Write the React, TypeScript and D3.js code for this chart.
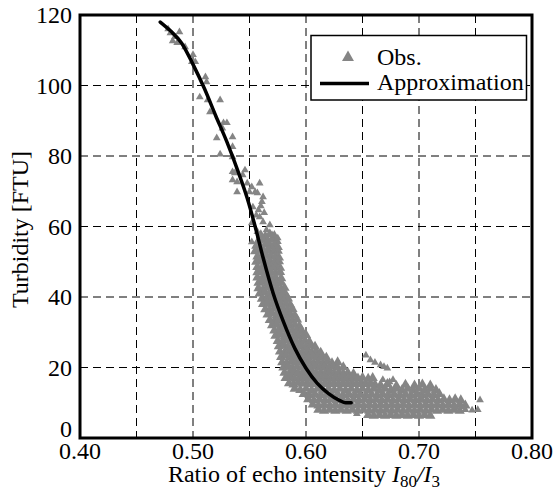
import React from 'react';
import * as d3 from 'd3';

// axis ticks / grid
const X_TICKS = [0.4, 0.5, 0.6, 0.7, 0.8];
const X_GRID = [0.45, 0.5, 0.55, 0.6, 0.65, 0.7, 0.75];
const Y_TICKS = [0, 20, 40, 60, 80, 100, 120];
const Y_GRID = [20, 40, 60, 80, 100];

// fitted curve
const approximation: [number, number][] = [
  [0.471, 118], [0.480, 115.5], [0.490, 112], [0.500, 106], [0.510, 99.2],
  [0.520, 91.5], [0.530, 84], [0.540, 75.5], [0.548, 68], [0.555, 60],
  [0.562, 51.2], [0.571, 41], [0.580, 33], [0.590, 25.5], [0.600, 19.8],
  [0.610, 15.5], [0.620, 12.6], [0.630, 10.6], [0.635, 10], [0.640, 10],
];

// observations: sparse upper part
const obsUpper: [number, number][] = [
  [0.478, 116.0], [0.480, 114.9], [0.488, 115.2], [0.484, 113.8], [0.482, 112.6], [0.486, 112.1],
  [0.493, 110.9], [0.500, 108.7], [0.502, 106.7], [0.499, 106.7], [0.511, 102.4], [0.512, 101.0],
  [0.506, 96.7], [0.513, 95.9], [0.515, 92.5], [0.524, 95.9], [0.527, 89.4], [0.526, 87.9],
  [0.530, 89.4], [0.521, 85.1], [0.535, 85.4], [0.524, 80.5], [0.535, 82.6], [0.535, 79.7],
  [0.535, 75.5], [0.537, 75.2], [0.546, 76.0], [0.539, 72.6], [0.548, 72.3], [0.550, 69.8],
  [0.552, 71.2], [0.559, 72.3], [0.557, 69.5], [0.562, 68.4], [0.535, 73.2], [0.544, 74.6],
  [0.539, 69.8], [0.555, 69.8], [0.561, 67.0], [0.558, 64.7], [0.559, 62.7], [0.562, 61.3],
  [0.568, 60.4], [0.565, 59.0], [0.570, 57.6], [0.575, 56.7], [0.552, 55.6], [0.565, 55.3],
  [0.553, 65.5], [0.556, 63.2], [0.552, 61.0], [0.557, 58.5], [0.560, 65.8], [0.563, 63.9],
];

// observations: dense descending band
const obsBand: [number, number][] = [
  [0.560, 57.5], [0.564, 57.2], [0.568, 57.8], [0.572, 57.3],
  [0.558, 56.0], [0.562, 56.3], [0.566, 55.8], [0.570, 56.2], [0.574, 55.9],
  [0.556, 54.5], [0.560, 54.2], [0.564, 54.8], [0.568, 54.4], [0.572, 54.6], [0.575, 54.2],
  [0.555, 53.0], [0.559, 53.3], [0.563, 52.8], [0.567, 53.2], [0.571, 52.9], [0.575, 53.1],
  [0.557, 51.5], [0.561, 51.2], [0.565, 51.7], [0.569, 51.4], [0.573, 51.6], [0.576, 51.2],
  [0.556, 50.0], [0.560, 50.3], [0.564, 49.8], [0.568, 50.2], [0.572, 49.9], [0.576, 50.1],
  [0.557, 48.5], [0.561, 48.2], [0.565, 48.7], [0.569, 48.4], [0.573, 48.6], [0.577, 48.3],
  [0.557, 47.0], [0.561, 47.3], [0.565, 46.8], [0.569, 47.2], [0.573, 46.9], [0.577, 47.1],
  [0.557, 45.5], [0.561, 45.2], [0.565, 45.7], [0.569, 45.4], [0.573, 45.6], [0.578, 45.3],
  [0.558, 44.0], [0.562, 44.3], [0.566, 43.8], [0.570, 44.2], [0.574, 43.9], [0.578, 44.1],
  [0.558, 42.5], [0.562, 42.2], [0.566, 42.7], [0.570, 42.4], [0.574, 42.6], [0.578, 42.3], [0.581, 42.6],
  [0.559, 41.0], [0.563, 41.3], [0.567, 40.8], [0.571, 41.2], [0.575, 40.9], [0.579, 41.1], [0.582, 40.8],
  [0.561, 39.5], [0.565, 39.2], [0.569, 39.7], [0.573, 39.4], [0.577, 39.6], [0.581, 39.3], [0.584, 39.6],
  [0.562, 38.0], [0.566, 38.3], [0.570, 37.8], [0.574, 38.2], [0.578, 37.9], [0.582, 38.1], [0.586, 37.8],
  [0.564, 36.5], [0.568, 36.2], [0.572, 36.7], [0.576, 36.4], [0.580, 36.6], [0.584, 36.3], [0.588, 36.6],
  [0.566, 35.0], [0.570, 35.3], [0.574, 34.8], [0.578, 35.2], [0.582, 34.9], [0.586, 35.1], [0.590, 34.8],
  [0.568, 33.5], [0.572, 33.2], [0.576, 33.7], [0.580, 33.4], [0.584, 33.6], [0.588, 33.3], [0.592, 33.6],
  [0.570, 32.0], [0.574, 32.3], [0.578, 31.8], [0.582, 32.2], [0.586, 31.9], [0.590, 32.1], [0.594, 31.8],
  [0.572, 30.5], [0.576, 30.2], [0.580, 30.7], [0.584, 30.4], [0.588, 30.6], [0.592, 30.3], [0.596, 30.6],
  [0.573, 29.0], [0.577, 29.3], [0.581, 28.8], [0.585, 29.2], [0.589, 28.9], [0.593, 29.1], [0.597, 28.8], [0.600, 29.2],
  [0.575, 27.5], [0.579, 27.2], [0.583, 27.7], [0.587, 27.4], [0.591, 27.6], [0.595, 27.3], [0.599, 27.6], [0.603, 27.3],
  [0.576, 26.0], [0.580, 26.3], [0.584, 25.8], [0.588, 26.2], [0.592, 25.9], [0.596, 26.1], [0.600, 25.8], [0.604, 26.2], [0.608, 25.9],
  [0.577, 24.5], [0.581, 24.2], [0.585, 24.7], [0.589, 24.4], [0.593, 24.6], [0.597, 24.3], [0.601, 24.6], [0.605, 24.3], [0.609, 24.6], [0.613, 24.2],
  [0.578, 23.0], [0.582, 23.3], [0.586, 22.8], [0.590, 23.2], [0.594, 22.9], [0.598, 23.1], [0.602, 22.8], [0.606, 23.2], [0.610, 22.9], [0.614, 23.1], [0.618, 22.8],
  [0.579, 21.5], [0.583, 21.2], [0.587, 21.7], [0.591, 21.4], [0.595, 21.6], [0.599, 21.3], [0.603, 21.6], [0.607, 21.3], [0.611, 21.6], [0.615, 21.3], [0.619, 21.6], [0.623, 21.2], [0.628, 21.5],
  [0.580, 20.0], [0.584, 20.3], [0.588, 19.8], [0.592, 20.2], [0.596, 19.9], [0.600, 20.1], [0.604, 19.8], [0.608, 20.2], [0.612, 19.9], [0.616, 20.1], [0.620, 19.8], [0.624, 20.2], [0.628, 19.9], [0.633, 20.1],
  [0.581, 18.5], [0.585, 18.2], [0.589, 18.7], [0.593, 18.4], [0.597, 18.6], [0.601, 18.3], [0.605, 18.6], [0.609, 18.3], [0.613, 18.6], [0.617, 18.3], [0.621, 18.6], [0.625, 18.3], [0.629, 18.6], [0.633, 18.3], [0.637, 18.5], [0.642, 18.2],
  [0.582, 17.0], [0.586, 17.3], [0.590, 16.8], [0.594, 17.2], [0.598, 16.9], [0.602, 17.1], [0.606, 16.8], [0.610, 17.2], [0.614, 16.9], [0.618, 17.1], [0.622, 16.8], [0.626, 17.2], [0.630, 16.9], [0.634, 17.1], [0.638, 16.8], [0.642, 17.2], [0.646, 16.9], [0.650, 17.1], [0.655, 16.8], [0.659, 17.0],
  [0.585, 15.5], [0.589, 15.2], [0.593, 15.7], [0.597, 15.4], [0.601, 15.6], [0.605, 15.3], [0.609, 15.6], [0.613, 15.3], [0.617, 15.6], [0.621, 15.3], [0.625, 15.6], [0.629, 15.3], [0.633, 15.6], [0.637, 15.3], [0.641, 15.6], [0.645, 15.3], [0.649, 15.6], [0.653, 15.3], [0.657, 15.5], [0.661, 15.2],
  [0.666, 15.0], [0.672, 15.3], [0.680, 14.8], [0.688, 15.1], [0.696, 14.9], [0.703, 15.2], [0.710, 14.9],
];

// observations: low-turbidity tail
const obsTail: [number, number][] = [
  [0.590, 14.0], [0.595, 13.6], [0.600, 14.0], [0.605, 13.6], [0.610, 14.0], [0.615, 13.6], [0.620, 14.0], [0.625, 13.6], [0.630, 14.0],
  [0.635, 13.6], [0.640, 14.0], [0.645, 13.6], [0.650, 14.0], [0.655, 13.6], [0.660, 14.0], [0.665, 13.6], [0.670, 14.0], [0.675, 13.6],
  [0.680, 14.0], [0.685, 13.6], [0.690, 14.0], [0.695, 13.6], [0.700, 14.0], [0.705, 13.6], [0.710, 14.0], [0.715, 13.6],
  [0.598, 12.5], [0.603, 12.2], [0.608, 12.5], [0.613, 12.2], [0.618, 12.5], [0.623, 12.2], [0.628, 12.5], [0.633, 12.2], [0.638, 12.5],
  [0.643, 12.2], [0.648, 12.5], [0.653, 12.2], [0.658, 12.5], [0.663, 12.2], [0.668, 12.5], [0.673, 12.2], [0.678, 12.5], [0.683, 12.2],
  [0.688, 12.5], [0.693, 12.2], [0.698, 12.5], [0.703, 12.2], [0.708, 12.5], [0.713, 12.2], [0.718, 12.5],
  [0.602, 11.0], [0.607, 10.7], [0.612, 11.0], [0.617, 10.7], [0.622, 11.0], [0.627, 10.7], [0.632, 11.0], [0.637, 10.7], [0.642, 11.0],
  [0.647, 10.7], [0.652, 11.0], [0.657, 10.7], [0.662, 11.0], [0.667, 10.7], [0.672, 11.0], [0.677, 10.7], [0.682, 11.0], [0.687, 10.7],
  [0.692, 11.0], [0.697, 10.7], [0.702, 11.0], [0.707, 10.7], [0.712, 11.0], [0.717, 10.7], [0.722, 11.0], [0.727, 10.7], [0.732, 11.0], [0.737, 10.7],
  [0.606, 9.5], [0.611, 9.2], [0.616, 9.5], [0.621, 9.2], [0.626, 9.5], [0.631, 9.2], [0.636, 9.5], [0.641, 9.2], [0.646, 9.5],
  [0.651, 9.2], [0.656, 9.5], [0.661, 9.2], [0.666, 9.5], [0.671, 9.2], [0.676, 9.5], [0.681, 9.2], [0.686, 9.5], [0.691, 9.2],
  [0.696, 9.5], [0.701, 9.2], [0.706, 9.5], [0.711, 9.2], [0.716, 9.5], [0.721, 9.2], [0.726, 9.5], [0.731, 9.2], [0.736, 9.5], [0.741, 9.2],
  [0.611, 8.0], [0.616, 7.7], [0.621, 8.0], [0.626, 7.7], [0.631, 8.0], [0.636, 7.7], [0.641, 8.0], [0.646, 7.7], [0.651, 8.0],
  [0.656, 7.7], [0.661, 8.0], [0.666, 7.7], [0.671, 8.0], [0.676, 7.7], [0.681, 8.0], [0.686, 7.7], [0.691, 8.0], [0.696, 7.7],
  [0.701, 8.0], [0.706, 7.7], [0.711, 8.0], [0.716, 7.7], [0.721, 8.0], [0.726, 7.7], [0.731, 8.0], [0.736, 7.7],
  [0.655, 6.5], [0.660, 6.3], [0.665, 6.5], [0.670, 6.3], [0.675, 6.5], [0.680, 6.3], [0.685, 6.5], [0.690, 6.3],
  [0.695, 6.5], [0.700, 6.3], [0.705, 6.5], [0.710, 6.3],
];

// isolated observations
const obsStray: [number, number][] = [
  [0.653, 23.5], [0.657, 22.1], [0.661, 21.4], [0.666, 20.7], [0.669, 20.2], [0.672, 19.8],
  [0.668, 16.5], [0.674, 15.9], [0.677, 16.5],
  [0.732, 8.8], [0.738, 8.8], [0.741, 8.0], [0.747, 7.9], [0.752, 8.0], [0.754, 10.8],
  [0.645, 6.9],
];

const W = 557;
const H = 493;
const FONT = "'Liberation Serif', 'Times New Roman', serif";
const GRAY = '#858585';

const x = d3.scaleLinear().domain([0.4, 0.8]).range([80, 532]);
const y = d3.scaleLinear().domain([0, 120]).range([438, 15]);

const triSparse = d3.symbol().type(d3.symbolTriangle).size(26)();
const triDense = d3.symbol().type(d3.symbolTriangle).size(46)();
const triLegend = d3.symbol().type(d3.symbolTriangle).size(62)();

const lineGen = d3.line<[number, number]>()
  .x(d => x(d[0]))
  .y(d => y(d[1]))
  .curve(d3.curveMonotoneX);

export default function App() {
  const sparse = [...obsUpper, ...obsStray];
  const dense = [...obsBand, ...obsTail];
  const [x0, x1] = x.range();
  const [y0, y1] = y.range();
  const txt = { fontFamily: FONT };

  return (
    <svg width={W} height={H} style={{ position: 'absolute', left: 0, top: 0, background: '#fff', fontFamily: FONT }}>
      {/* grid */}
      <g stroke="#000" strokeWidth={1} strokeDasharray="8,5">
        {X_GRID.map(v => (
          <line key={'gx' + v} x1={x(v)} x2={x(v)} y1={y1} y2={y0} />
        ))}
        {Y_GRID.map(v => (
          <line key={'gy' + v} x1={x0} x2={x1} y1={y(v)} y2={y(v)} />
        ))}
      </g>

      {/* observations */}
      <g fill={GRAY}>
        {dense.map((d, i) => (
          <path key={'d' + i} d={triDense} transform={`translate(${x(d[0])},${y(d[1])})`} />
        ))}
        {sparse.map((d, i) => (
          <path key={'s' + i} d={triSparse} transform={`translate(${x(d[0])},${y(d[1])})`} />
        ))}
      </g>

      {/* approximation */}
      <path d={lineGen(approximation) || ''} fill="none" stroke="#000" strokeWidth={3.5} strokeLinecap="round" />

      {/* frame */}
      <rect x={x0} y={y1} width={x1 - x0} height={y0 - y1} fill="none" stroke="#000" strokeWidth={3} />

      {/* tick labels */}
      <g fontSize={24} fill="#000" style={txt}>
        {X_TICKS.map(v => (
          <text key={'tx' + v} x={x(v)} y={458.5} textAnchor="middle">{v.toFixed(2)}</text>
        ))}
        {Y_TICKS.map(v => (
          <text key={'ty' + v} x={72} y={v === 0 ? 437 : y(v)} dy={v === 0 ? 0 : '0.35em'} textAnchor="end">{v}</text>
        ))}
      </g>

      {/* axis titles */}
      <text x={304} y={482} textAnchor="middle" fontSize={24} style={txt}>
        Ratio of echo intensity{' '}
        <tspan fontStyle="italic">I</tspan>
        <tspan fontSize={17} dy={5}>80</tspan>
        <tspan dy={-5} fontStyle="italic">/</tspan>
        <tspan fontStyle="italic">I</tspan>
        <tspan fontSize={17} dy={5}>3</tspan>
      </text>
      <text transform={`translate(28,${(y0 + y1) / 2 + 3}) rotate(-90)`} textAnchor="middle" fontSize={24} style={txt}>
        Turbidity [FTU]
      </text>

      {/* legend */}
      <g style={txt}>
        <rect x={311} y={35.5} width={215.5} height={64.5} fill="#fff" stroke="#000" strokeWidth={1.5} />
        <path d={triLegend} transform="translate(348,57.5)" fill={GRAY} />
        <line x1={320} x2={369} y1={83.5} y2={83.5} stroke="#000" strokeWidth={3.5} />
        <text x={377} y={65} fontSize={24}>Obs.</text>
        <text x={377} y={89.5} fontSize={24}>Approximation</text>
      </g>
    </svg>
  );
}
